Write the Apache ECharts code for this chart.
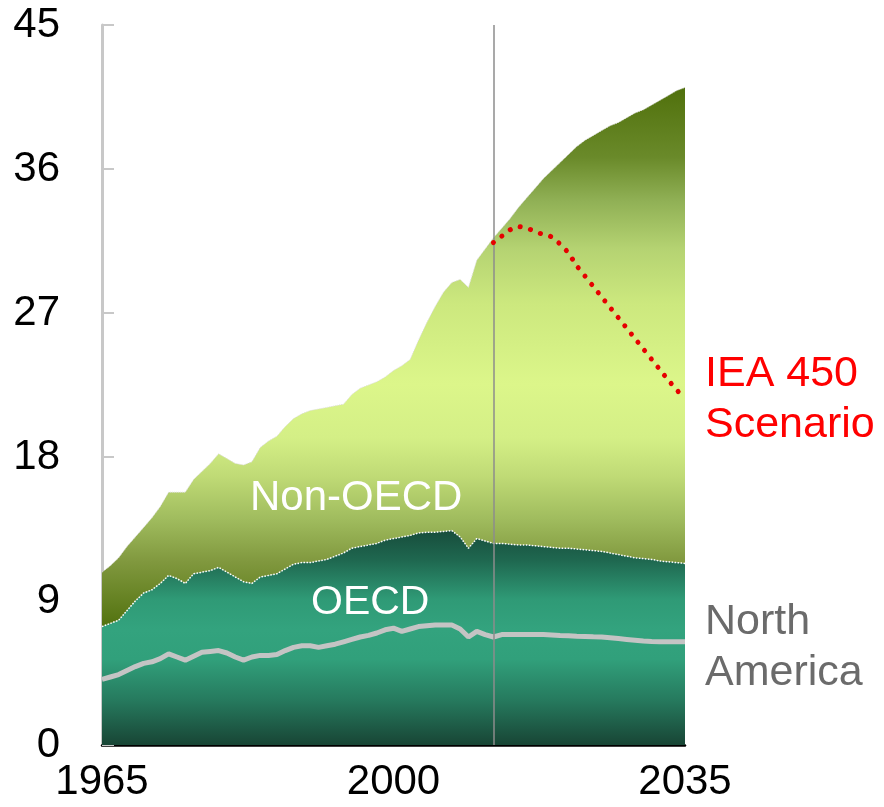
<!DOCTYPE html>
<html>
<head>
<meta charset="utf-8">
<script src="https://cdn.jsdelivr.net/npm/echarts@6/dist/echarts.min.js"></script>
<style>
  html, body { margin: 0; padding: 0; background: #fff; }
  #chart { width: 884px; height: 807px; }
</style>
</head>
<body>
<div id="chart"></div>
<script>
const years = [
  '1965','1966','1967','1968','1969','1970','1971','1972','1973','1974',
  '1975','1976','1977','1978','1979','1980','1981','1982','1983','1984',
  '1985','1986','1987','1988','1989','1990','1991','1992','1993','1994',
  '1995','1996','1997','1998','1999','2000','2001','2002','2003','2004',
  '2005','2006','2007','2008','2009','2010','2011','2012','2013','2014',
  '2015','2016','2017','2018','2019','2020','2021','2022','2023','2024',
  '2025','2026','2027','2028','2029','2030','2031','2032','2033','2034','2035'
];
const shownYears = ['1965', '2000', '2035'];
const yTicks = [0, 9, 18, 27, 36, 45];
const projectionStart = '2012';

const oecd = [
  7.4, 7.6, 7.8, 8.4, 9.0, 9.5, 9.7, 10.1, 10.6, 10.4,
  10.1, 10.7, 10.8, 10.9, 11.1, 10.8, 10.5, 10.2, 10.1, 10.5,
  10.6, 10.7, 11.0, 11.3, 11.4, 11.4, 11.5, 11.6, 11.8, 12.0,
  12.3, 12.4, 12.5, 12.6, 12.8, 12.9, 13.0, 13.1, 13.25, 13.3,
  13.3, 13.35, 13.4, 13.0, 12.3, 12.9, 12.75, 12.6, 12.6, 12.55,
  12.5, 12.5, 12.45, 12.4, 12.35, 12.3, 12.3, 12.25, 12.2, 12.15,
  12.1, 12.0, 11.9, 11.8, 11.7, 11.65, 11.6, 11.5, 11.45, 11.4, 11.35
];
const nonOecd = [
  3.4, 3.6, 3.9, 4.0, 4.0, 4.1, 4.5, 4.8, 5.2, 5.4,
  5.7, 5.9, 6.3, 6.7, 7.1, 7.1, 7.1, 7.3, 7.6, 8.1,
  8.4, 8.6, 8.9, 9.1, 9.3, 9.5, 9.5, 9.5, 9.4, 9.3,
  9.6, 9.9, 10.0, 10.1, 10.2, 10.5, 10.7, 11.0, 12.05, 13.1,
  14.1, 14.95, 15.5, 16.1, 16.3, 17.4, 18.25, 19.1, 19.7, 20.35,
  21.1, 21.7, 22.35, 23.0, 23.55, 24.1, 24.6, 25.15, 25.6, 25.95,
  26.3, 26.7, 27.0, 27.4, 27.8, 28.05, 28.4, 28.8, 29.15, 29.5, 29.75
];
const northAmerica = [
  4.1, 4.25, 4.4, 4.65, 4.9, 5.1, 5.2, 5.4, 5.7, 5.5,
  5.3, 5.55, 5.8, 5.85, 5.9, 5.75, 5.5, 5.3, 5.5, 5.6,
  5.6, 5.65, 5.9, 6.1, 6.2, 6.2, 6.1, 6.2, 6.3, 6.45,
  6.6, 6.75, 6.85, 7.0, 7.2, 7.3, 7.1, 7.25, 7.4, 7.45,
  7.5, 7.5, 7.5, 7.25, 6.75, 7.1, 6.9, 6.75, 6.9, 6.9,
  6.9, 6.9, 6.9, 6.9, 6.88, 6.85, 6.83, 6.8, 6.78, 6.76,
  6.75, 6.7, 6.65, 6.6, 6.55, 6.5, 6.47, 6.45, 6.45, 6.45, 6.45
];
// IEA 450 scenario starts in 2012
const iea450Years = [
  '2012','2013','2014','2015','2016','2017','2018','2019','2020','2021','2022','2023',
  '2024','2025','2026','2027','2028','2029','2030','2031','2032','2033','2034','2035'
];
const iea450 = [
  31.4, 31.8, 32.2, 32.4, 32.3, 32.1, 31.9, 31.75, 31.3, 30.75, 29.95, 29.3,
  28.65, 28.0, 27.35, 26.7, 26.05, 25.4, 24.75, 24.1, 23.45, 22.8, 22.2, 21.6
];

const FONT = '"Liberation Sans", Arial, sans-serif';

const chart = echarts.init(document.getElementById('chart'));

const ieaData = years.map((y) => {
  const i = iea450Years.indexOf(y);
  return i >= 0 ? iea450[i] : null;
});

const grad = (stops) => new echarts.graphic.LinearGradient(0, 0, 0, 1,
  stops.map(([offset, color]) => ({ offset, color })));

const option = {
  animation: false,
  grid: { left: 102, right: 199, top: 25, bottom: 62 },
  xAxis: {
    type: 'category',
    data: years,
    boundaryGap: false,
    axisLine: { lineStyle: { color: '#000', width: 2.5 } },
    axisTick: { show: false },
    axisLabel: {
      interval: (i, v) => shownYears.includes(v),
      color: '#000',
      fontFamily: FONT,
      fontSize: 42,
      margin: 16,
    },
    splitLine: { show: false },
  },
  yAxis: {
    type: 'value',
    min: yTicks[0],
    max: yTicks[yTicks.length - 1],
    interval: 9,
    axisLine: { show: true, lineStyle: { color: '#c8c8c8', width: 3 } },
    axisTick: { show: true, inside: true, length: 12, lineStyle: { color: '#c8c8c8', width: 2 } },
    axisLabel: {
      color: '#000',
      fontFamily: FONT,
      fontSize: 42,
      margin: 42,
    },
    splitLine: { show: false },
  },
  series: [
    {
      name: 'OECD',
      type: 'line',
      stack: 'total',
      data: oecd,
      symbol: 'none',
      lineStyle: { color: '#ffffff', width: 1.5, type: 'dotted' },
      areaStyle: {
        opacity: 1,
        color: grad([
          [0, '#174d3c'], [0.14, '#1f6850'], [0.32, '#2f9a76'],
          [0.46, '#33a37e'], [0.6, '#31a07b'], [0.79, '#267a5e'], [1, '#184535'],
        ]),
      },
      z: 2,
    },
    {
      name: 'Non-OECD',
      type: 'line',
      stack: 'total',
      data: nonOecd,
      symbol: 'none',
      lineStyle: { color: '#dddddd', width: 1, type: 'dotted' },
      areaStyle: {
        opacity: 1,
        color: grad([
          [0, '#50700c'], [0.13, '#6a8a2a'], [0.21, '#90b055'], [0.3, '#b5d372'],
          [0.4, '#cce87e'], [0.55, '#dcf68a'], [0.65, '#d4ef86'], [0.72, '#c0db76'],
          [0.8, '#a0bc5e'], [0.88, '#80983e'], [1, '#52720f'],
        ]),
      },
      z: 1,
    },
    {
      name: 'North America',
      type: 'line',
      data: northAmerica,
      symbol: 'none',
      lineStyle: { color: '#c4c4c4', width: 5 },
      endLabel: {
        show: true,
        formatter: 'North\nAmerica',
        color: '#6b6b6b',
        fontFamily: FONT,
        fontSize: 43,
        lineHeight: 51,
        distance: 20,
        offset: [0, 6],
      },
      z: 4,
    },
    {
      name: 'IEA 450 Scenario',
      type: 'line',
      data: ieaData,
      symbol: 'none',
      smooth: 0.3,
      lineStyle: { color: '#e60000', width: 5, type: [0.1, 10.5], cap: 'round' },
      endLabel: {
        show: true,
        formatter: 'IEA 450\nScenario',
        color: '#ff0000',
        fontFamily: FONT,
        fontSize: 43,
        lineHeight: 51,
        distance: 20,
      },
      markLine: {
        silent: true,
        symbol: 'none',
        label: { show: false },
        lineStyle: { color: '#8c8c8c', width: 1.5, type: 'solid' },
        data: [{ xAxis: projectionStart }],
      },
      z: 5,
    },
  ],
  graphic: [
    {
      type: 'text',
      left: 250,
      top: 477,
      style: { text: 'Non-OECD', fill: '#fff', font: '42px ' + FONT },
      z: 10,
    },
    {
      type: 'text',
      left: 311,
      top: 582,
      style: { text: 'OECD', fill: '#fff', font: '41px ' + FONT },
      z: 10,
    },
  ],
};

chart.setOption(option);
</script>
</body>
</html>
